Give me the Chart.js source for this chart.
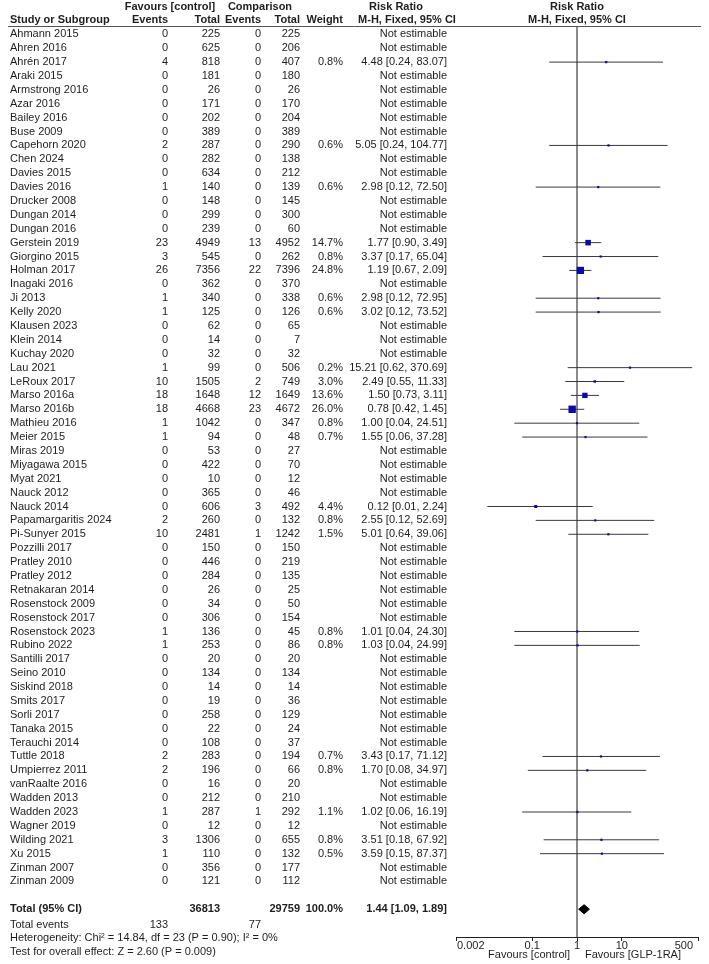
<!DOCTYPE html>
<html lang="en">
<head>
<meta charset="UTF-8">
<title>Forest plot - Risk Ratio</title>
<script src="https://cdn.jsdelivr.net/npm/chart.js"></script>
<style>
  body { margin: 0; background: #fff; }
  canvas { display: block; }
</style>
</head>
<body>
<canvas id="forest" width="709" height="964"></canvas>
<script>
// study rows
const studies = [
  'Ahmann 2015', 'Ahren 2016', 'Ahrén 2017', 'Araki 2015', 'Armstrong 2016', 'Azar 2016', 'Bailey 2016', 'Buse 2009', 'Capehorn 2020', 'Chen 2024',
  'Davies 2015', 'Davies 2016', 'Drucker 2008', 'Dungan 2014', 'Dungan 2016', 'Gerstein 2019', 'Giorgino 2015', 'Holman 2017', 'Inagaki 2016', 'Ji 2013',
  'Kelly 2020', 'Klausen 2023', 'Klein 2014', 'Kuchay 2020', 'Lau 2021', 'LeRoux 2017', 'Marso 2016a', 'Marso 2016b', 'Mathieu 2016', 'Meier 2015',
  'Miras 2019', 'Miyagawa 2015', 'Myat 2021', 'Nauck 2012', 'Nauck 2014', 'Papamargaritis 2024', 'Pi-Sunyer 2015', 'Pozzilli 2017', 'Pratley 2010', 'Pratley 2012',
  'Retnakaran 2014', 'Rosenstock 2009', 'Rosenstock 2017', 'Rosenstock 2023', 'Rubino 2022', 'Santilli 2017', 'Seino 2010', 'Siskind 2018', 'Smits 2017', 'Sorli 2017',
  'Tanaka 2015', 'Terauchi 2014', 'Tuttle 2018', 'Umpierrez 2011', 'vanRaalte 2016', 'Wadden 2013', 'Wadden 2023', 'Wagner 2019', 'Wilding 2021', 'Xu 2015',
  'Zinman 2007', 'Zinman 2009'
];
const eventsCtrl = [
  0, 0, 4, 0, 0, 0, 0, 0, 2, 0,
  0, 1, 0, 0, 0, 23, 3, 26, 0, 1,
  1, 0, 0, 0, 1, 10, 18, 18, 1, 1,
  0, 0, 0, 0, 0, 2, 10, 0, 0, 0,
  0, 0, 0, 1, 1, 0, 0, 0, 0, 0,
  0, 0, 2, 2, 0, 0, 1, 0, 3, 1,
  0, 0
];
const totalCtrl = [
  225, 625, 818, 181, 26, 171, 202, 389, 287, 282,
  634, 140, 148, 299, 239, 4949, 545, 7356, 362, 340,
  125, 62, 14, 32, 99, 1505, 1648, 4668, 1042, 94,
  53, 422, 10, 365, 606, 260, 2481, 150, 446, 284,
  26, 34, 306, 136, 253, 20, 134, 14, 19, 258,
  22, 108, 283, 196, 16, 212, 287, 12, 1306, 110,
  356, 121
];
const eventsComp = [
  0, 0, 0, 0, 0, 0, 0, 0, 0, 0,
  0, 0, 0, 0, 0, 13, 0, 22, 0, 0,
  0, 0, 0, 0, 0, 2, 12, 23, 0, 0,
  0, 0, 0, 0, 3, 0, 1, 0, 0, 0,
  0, 0, 0, 0, 0, 0, 0, 0, 0, 0,
  0, 0, 0, 0, 0, 0, 1, 0, 0, 0,
  0, 0
];
const totalComp = [
  225, 206, 407, 180, 26, 170, 204, 389, 290, 138,
  212, 139, 145, 300, 60, 4952, 262, 7396, 370, 338,
  126, 65, 7, 32, 506, 749, 1649, 4672, 347, 48,
  27, 70, 12, 46, 492, 132, 1242, 150, 219, 135,
  25, 50, 154, 45, 86, 20, 134, 14, 36, 129,
  24, 37, 194, 66, 20, 210, 292, 12, 655, 132,
  177, 112
];
const weights = [
  null, null, 0.8, null, null, null, null, null, 0.6, null,
  null, 0.6, null, null, null, 14.7, 0.8, 24.8, null, 0.6,
  0.6, null, null, null, 0.2, 3.0, 13.6, 26.0, 0.8, 0.7,
  null, null, null, null, 4.4, 0.8, 1.5, null, null, null,
  null, null, null, 0.8, 0.8, null, null, null, null, null,
  null, null, 0.7, 0.8, null, null, 1.1, null, 0.8, 0.5,
  null, null
];
const rr = [
  null, null, 4.48, null, null, null, null, null, 5.05, null,
  null, 2.98, null, null, null, 1.77, 3.37, 1.19, null, 2.98,
  3.02, null, null, null, 15.21, 2.49, 1.50, 0.78, 1.00, 1.55,
  null, null, null, null, 0.12, 2.55, 5.01, null, null, null,
  null, null, null, 1.01, 1.03, null, null, null, null, null,
  null, null, 3.43, 1.70, null, null, 1.02, null, 3.51, 3.59,
  null, null
];
const ciLow = [
  null, null, 0.24, null, null, null, null, null, 0.24, null,
  null, 0.12, null, null, null, 0.90, 0.17, 0.67, null, 0.12,
  0.12, null, null, null, 0.62, 0.55, 0.73, 0.42, 0.04, 0.06,
  null, null, null, null, 0.01, 0.12, 0.64, null, null, null,
  null, null, null, 0.04, 0.04, null, null, null, null, null,
  null, null, 0.17, 0.08, null, null, 0.06, null, 0.18, 0.15,
  null, null
];
const ciHigh = [
  null, null, 83.07, null, null, null, null, null, 104.77, null,
  null, 72.50, null, null, null, 3.49, 65.04, 2.09, null, 72.95,
  73.52, null, null, null, 370.69, 11.33, 3.11, 1.45, 24.51, 37.28,
  null, null, null, null, 2.24, 52.69, 39.06, null, null, null,
  null, null, null, 24.30, 24.99, null, null, null, null, null,
  null, null, 71.12, 34.97, null, null, 16.19, null, 67.92, 87.37,
  null, null
];

// pooled result
const pooled = { rr: 1.44, lo: 1.09, hi: 1.89 };
const pooledTotals = [36813, 29759];
const pooledEvents = [133, 77];
const heterogeneity = 'Heterogeneity: Chi\u00B2 = 14.84, df = 23 (P = 0.90); I\u00B2 = 0%';
const overallTest = 'Test for overall effect: Z = 2.60 (P = 0.009)';

// axis
const tickVals = [0.002, 0.1, 1, 10, 500];
const tickLabels = ['0.002', '0.1', '1', '10', '500'];

const totalRow = studies.length + 1;
const FONT = '"Liberation Sans", Arial, sans-serif';

// confidence interval lines
const ciSets = [];
rr.forEach((v, i) => {
  if (v === null) return;
  ciSets.push({
    data: [{ x: ciLow[i], y: i }, { x: ciHigh[i], y: i }],
    showLine: true,
    borderColor: '#3a3a3a',
    borderWidth: 1,
    pointRadius: 0,
    order: 2
  });
});

// square size from weight
const squarePts = [];
const squareRad = [];
rr.forEach((v, i) => {
  if (v === null) return;
  squarePts.push({ x: v, y: i });
  const side = Math.max(2.2, 1.45 * Math.sqrt(weights[i]));
  squareRad.push(side / Math.SQRT2);
});

const tablePlugin = {
  id: 'table',
  afterDraw(chart) {
    const ctx = chart.ctx;
    const ys = chart.scales.y;
    const xs = chart.scales.x;
    const area = chart.chartArea;
    const rowY = v => ys.getPixelForValue(v);
    const txt = (s, px, py, align, bold) => {
      ctx.font = (bold ? 'bold ' : '') + '11px ' + FONT;
      ctx.textAlign = align;
      ctx.fillText(s, px, py);
    };
    ctx.save();
    ctx.fillStyle = '#1e1e1e';
    ctx.textBaseline = 'middle';

    // header
    const h1 = rowY(-2), h2 = rowY(-1);
    txt('Favours [control]', 170, h1, 'center', true);
    txt('Comparison', 260, h1, 'center', true);
    txt('Risk Ratio', 396, h1, 'center', true);
    txt('Risk Ratio', xs.getPixelForValue(1), h1, 'center', true);
    txt('Study or Subgroup', 10, h2, 'left', true);
    txt('Events', 168, h2, 'right', true);
    txt('Total', 220, h2, 'right', true);
    txt('Events', 261, h2, 'right', true);
    txt('Total', 300, h2, 'right', true);
    txt('Weight', 343, h2, 'right', true);
    txt('M-H, Fixed, 95% CI', 407, h2, 'center', true);
    txt('M-H, Fixed, 95% CI', xs.getPixelForValue(1), h2, 'center', true);

    ctx.strokeStyle = '#555';
    ctx.lineWidth = 1;
    ctx.beginPath();
    ctx.moveTo(8, Math.round(area.top) + 0.5);
    ctx.lineTo(701, Math.round(area.top) + 0.5);
    ctx.stroke();

    // study rows
    studies.forEach((name, i) => {
      const py = rowY(i);
      txt(name, 10, py, 'left');
      txt(String(eventsCtrl[i]), 168, py, 'right');
      txt(String(totalCtrl[i]), 220, py, 'right');
      txt(String(eventsComp[i]), 261, py, 'right');
      txt(String(totalComp[i]), 300, py, 'right');
      if (weights[i] !== null) txt(weights[i].toFixed(1) + '%', 343, py, 'right');
      const est = rr[i] === null ? 'Not estimable'
        : rr[i].toFixed(2) + ' [' + ciLow[i].toFixed(2) + ', ' + ciHigh[i].toFixed(2) + ']';
      txt(est, 447, py, 'right');
    });

    // totals
    const ty = rowY(totalRow);
    txt('Total (95% CI)', 10, ty, 'left', true);
    txt(String(pooledTotals[0]), 220, ty, 'right', true);
    txt(String(pooledTotals[1]), 300, ty, 'right', true);
    txt('100.0%', 343, ty, 'right', true);
    txt(pooled.rr.toFixed(2) + ' [' + pooled.lo.toFixed(2) + ', ' + pooled.hi.toFixed(2) + ']', 447, ty, 'right', true);
    const ey = rowY(totalRow + 1.1);
    txt('Total events', 10, ey, 'left');
    txt(String(pooledEvents[0]), 168, ey, 'right');
    txt(String(pooledEvents[1]), 261, ey, 'right');
    txt(heterogeneity, 10, rowY(totalRow + 2.1), 'left');
    txt(overallTest, 10, rowY(totalRow + 3.05), 'left');

    // axis labels
    const ly = area.bottom + 9;
    tickVals.forEach((v, k) => {
      const px = xs.getPixelForValue(v);
      if (k === 0) txt(tickLabels[k], px + 1, ly, 'left');
      else if (k === tickVals.length - 1) txt(tickLabels[k], px - 5, ly, 'right');
      else txt(tickLabels[k], px, ly, 'center');
    });
    const one = xs.getPixelForValue(1);
    txt('Favours [control]', one - 7, area.bottom + 18, 'right');
    txt('Favours [GLP-1RA]', one + 8, area.bottom + 18, 'left');
    ctx.restore();
  }
};

new Chart(document.getElementById('forest'), {
  type: 'scatter',
  data: {
    datasets: [
      {
        // line of no effect
        data: [{ x: 1, y: -0.6 }, { x: 1, y: 65 }],
        showLine: true,
        borderColor: '#7a7a7a',
        borderWidth: 1,
        pointRadius: 0,
        order: 3
      },
      ...ciSets,
      {
        data: squarePts,
        pointStyle: 'rect',
        pointRadius: squareRad,
        backgroundColor: '#0a0aa8',
        borderWidth: 0,
        order: 0
      },
      {
        // pooled diamond
        data: [
          { x: pooled.lo, y: totalRow },
          { x: pooled.rr, y: totalRow - 0.33 },
          { x: pooled.hi, y: totalRow },
          { x: pooled.rr, y: totalRow + 0.33 },
          { x: pooled.lo, y: totalRow }
        ],
        showLine: true,
        fill: 'shape',
        backgroundColor: '#000',
        borderColor: '#000',
        borderWidth: 1,
        pointRadius: 0,
        order: 0
      }
    ]
  },
  options: {
    responsive: false,
    animation: false,
    events: [],
    layout: { padding: { left: 456, right: 11, top: 26, bottom: 0 }, autoPadding: false },
    plugins: { legend: { display: false }, tooltip: { enabled: false } },
    scales: {
      x: {
        type: 'logarithmic',
        min: 0.002,
        max: 500,
        afterBuildTicks: scale => { scale.ticks = tickVals.map(v => ({ value: v })); },
        afterFit: scale => { scale.height = 27; },
        ticks: { display: false },
        grid: { drawOnChartArea: false, drawTicks: true, tickLength: 4, color: '#222' },
        border: { display: true, color: '#222', width: 1 }
      },
      y: {
        type: 'linear',
        reverse: true,
        min: -0.6,
        max: 65,
        display: false
      }
    }
  },
  plugins: [tablePlugin]
});
</script>
</body>
</html>
